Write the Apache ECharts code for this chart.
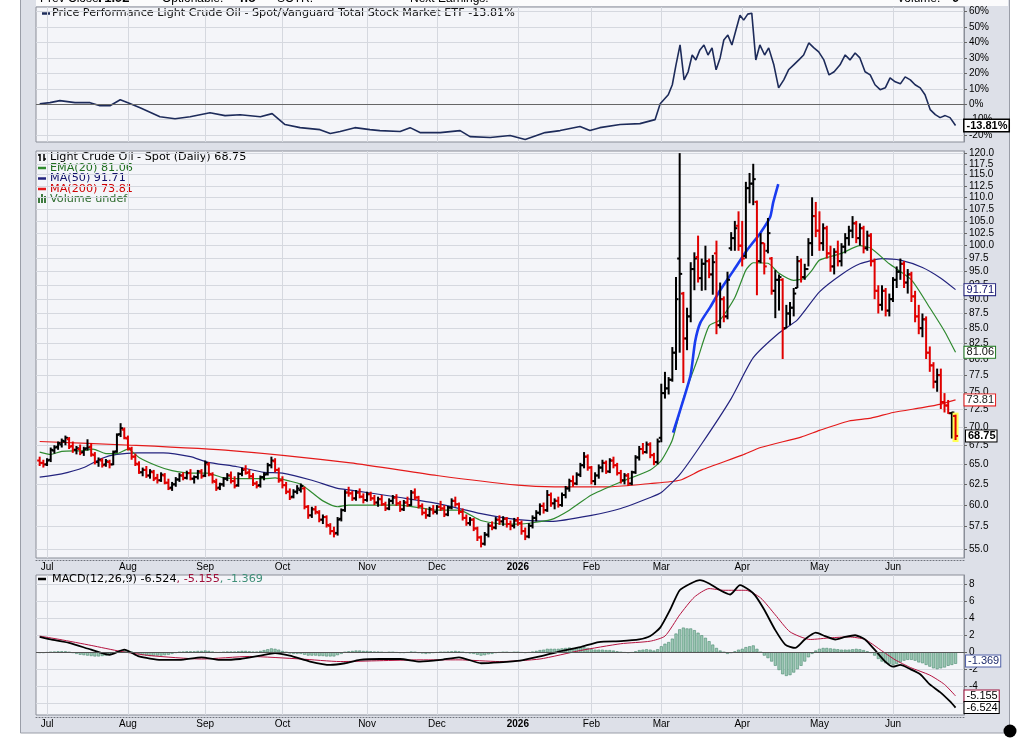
<!DOCTYPE html>
<html>
<head>
<meta charset="utf-8">
<title>Light Crude Oil - Spot</title>
<script src="https://cdn.jsdelivr.net/npm/echarts@6.0.0/dist/echarts.min.js"></script>
<style>
  html, body { margin: 0; padding: 0; background: #fff; }
  #chart { width: 1026px; height: 740px; }
</style>
</head>
<body>
<div id="chart"></div>
<script>
// month ticks (trading-day index of first session of each month)
var monthIdx = [2, 24, 45, 66, 89, 108, 130, 150, 169, 191, 212, 232];
var monthNames = ['Jul', 'Aug', 'Sep', 'Oct', 'Nov', 'Dec', '2026', 'Feb', 'Mar', 'Apr', 'May', 'Jun'];

var perfTicks = [-20, -10, 0, 10, 20, 30, 40, 50, 60];
var priceTicks = [55.0, 57.5, 60.0, 62.5, 65.0, 67.5, 70.0, 72.5, 75.0, 77.5, 80.0, 82.5, 85.0, 87.5,
    90.0, 92.5, 95.0, 97.5, 100.0, 102.5, 105.0, 107.5, 110.0, 112.5, 115.0, 117.5, 120.0];
var macdTicks = [-6, -4, -2, 0, 2, 4, 6, 8];

// last values shown in legends / boxes
var lastClose = '68.75', lastEma20 = '81.06', lastMa50 = '91.71', lastMa200 = '73.81';
var lastPerf = '-13.81%', lastMacd = '-6.524', lastSignal = '-5.155', lastHist = '-1.369';

// daily bars [open, high, low, close]
var barsJun25 = [[65.5, 66.0, 64.8, 65.2], [65.2, 65.6, 64.6, 65.0]];
var barsJul = [
    [65.0, 65.8, 64.8, 65.5], [65.6, 67.2, 65.3, 66.9], [66.8, 67.5, 66.4, 67.2], [67.3, 68.0, 66.9, 67.8],
    [67.6, 68.4, 67.2, 68.1], [68.0, 68.8, 67.5, 68.5], [68.3, 68.6, 67.0, 67.3], [67.4, 68.0, 66.5, 66.9],
    [66.9, 67.4, 66.3, 67.1], [67.0, 67.6, 66.2, 66.5], [66.6, 67.3, 66.1, 67.0], [67.1, 68.3, 66.8, 67.2],
    [67.3, 67.8, 66.0, 66.3], [66.2, 66.6, 65.0, 65.3], [65.3, 65.9, 64.7, 65.6], [65.5, 65.8, 64.6, 64.9],
    [65.0, 65.7, 64.7, 65.4], [65.3, 65.6, 64.5, 65.0], [65.0, 66.8, 64.9, 66.6], [66.7, 69.1, 66.5, 68.9],
    [69.0, 70.5, 68.6, 69.8], [69.6, 69.9, 68.3, 68.5]
];
var barsAug = [
    [68.4, 68.8, 66.8, 67.1], [67.0, 67.3, 65.6, 66.0], [66.0, 66.4, 64.8, 65.1], [65.0, 65.4, 63.8, 64.0],
    [64.0, 64.6, 63.5, 64.3], [64.3, 64.8, 63.3, 63.6], [63.6, 64.4, 63.2, 64.1], [64.0, 64.3, 62.9, 63.2],
    [63.3, 63.8, 62.6, 63.0], [63.0, 64.0, 62.8, 63.7], [63.6, 63.9, 62.5, 62.7], [62.7, 63.2, 61.8, 62.0],
    [62.1, 62.8, 61.7, 62.5], [62.5, 63.4, 62.2, 63.1], [63.1, 63.9, 62.8, 63.6], [63.6, 64.0, 63.0, 63.3],
    [63.3, 64.2, 63.1, 63.9], [63.9, 64.4, 63.0, 63.2], [63.2, 63.6, 62.6, 63.4], [63.4, 64.3, 63.1, 64.1],
    [64.1, 64.4, 63.2, 63.5]
];
var barsSep = [
    [63.6, 65.5, 63.4, 65.2], [65.0, 65.3, 63.5, 63.8], [63.7, 64.0, 62.6, 62.9], [62.8, 63.2, 61.7, 62.0],
    [62.1, 62.7, 61.8, 62.5], [62.5, 63.4, 62.2, 63.2], [63.2, 63.9, 62.9, 63.6], [63.6, 64.1, 62.6, 62.9],
    [62.9, 63.5, 62.0, 62.3], [62.4, 64.0, 62.2, 63.8], [63.8, 64.6, 63.5, 64.3], [64.4, 64.9, 63.7, 63.9],
    [64.0, 64.4, 63.2, 63.5], [63.5, 63.9, 62.3, 62.6], [62.6, 62.9, 62.0, 62.3], [62.4, 63.6, 62.1, 63.4],
    [63.4, 64.0, 63.0, 63.7], [63.8, 65.2, 63.6, 64.9], [64.9, 66.0, 64.5, 65.5], [65.4, 65.8, 64.0, 64.3],
    [64.3, 64.6, 62.7, 63.0]
];
var barsOct = [
    [63.0, 63.5, 62.0, 62.4], [62.4, 62.8, 61.3, 61.6], [61.6, 62.0, 60.6, 60.9], [61.0, 61.9, 60.8, 61.6],
    [61.6, 62.4, 61.3, 62.0], [61.8, 62.6, 61.5, 62.3], [62.0, 62.2, 59.5, 59.8], [59.8, 60.0, 58.4, 58.8],
    [58.8, 59.8, 58.5, 59.5], [59.5, 59.9, 58.9, 59.2], [59.1, 59.4, 58.0, 58.3], [58.3, 58.9, 57.8, 58.6],
    [58.6, 58.8, 57.4, 57.7], [57.6, 57.9, 56.6, 57.0], [57.0, 57.5, 56.3, 56.7], [56.8, 58.6, 56.5, 58.3],
    [58.4, 59.6, 58.1, 59.4], [59.4, 61.8, 59.2, 61.5], [61.5, 62.2, 61.0, 61.4], [61.4, 61.7, 60.5, 60.8],
    [60.8, 61.8, 60.5, 61.5], [61.5, 62.0, 60.8, 61.0], [61.0, 61.4, 60.2, 60.6]
];
var barsNov = [
    [60.6, 61.6, 60.4, 61.3], [61.3, 61.6, 60.5, 60.8], [60.8, 61.2, 60.0, 60.3], [60.3, 61.0, 59.8, 60.7],
    [60.7, 61.2, 59.9, 60.1], [60.1, 60.4, 59.3, 59.6], [59.6, 60.8, 59.4, 60.5], [60.5, 61.2, 60.1, 60.9],
    [60.9, 61.3, 59.9, 60.2], [60.2, 60.5, 59.2, 59.5], [59.5, 60.6, 59.3, 60.3], [60.3, 61.0, 59.8, 60.0],
    [60.0, 61.8, 59.9, 61.5], [61.5, 62.0, 60.6, 60.9], [60.9, 61.1, 59.6, 59.9], [59.9, 60.2, 58.8, 59.1],
    [59.1, 59.6, 58.4, 58.8], [58.8, 59.8, 58.6, 59.5], [59.5, 60.0, 58.9, 59.2]
];
var barsDec = [
    [59.2, 60.0, 58.9, 59.8], [59.8, 60.5, 59.3, 59.6], [59.6, 60.0, 58.6, 58.9], [58.9, 59.9, 58.7, 59.7],
    [59.7, 60.8, 59.5, 60.5], [60.5, 61.0, 59.8, 60.1], [60.1, 60.3, 58.9, 59.2], [59.2, 59.6, 58.2, 58.5],
    [58.5, 58.9, 57.6, 57.9], [57.9, 58.6, 57.6, 58.3], [58.3, 58.5, 57.0, 57.3], [57.3, 57.5, 55.9, 56.3],
    [56.3, 56.5, 55.2, 55.6], [55.6, 56.9, 55.4, 56.6], [56.6, 57.9, 56.3, 57.6], [57.6, 58.1, 57.1, 57.4],
    [57.4, 58.6, 57.2, 58.3], [58.3, 58.8, 57.7, 58.1], [58.1, 58.7, 57.6, 58.4], [58.4, 58.6, 57.4, 57.8],
    [57.8, 58.2, 57.1, 57.6], [57.6, 58.5, 57.3, 58.2]
];
var barsJan = [
    [58.2, 58.6, 57.6, 57.9], [57.9, 58.2, 56.6, 57.0], [57.0, 57.4, 56.0, 56.4], [56.4, 57.9, 56.2, 57.6],
    [57.6, 58.8, 57.3, 58.5], [58.5, 59.4, 58.1, 59.1], [59.1, 60.2, 58.8, 59.9], [59.9, 60.3, 59.0, 59.4],
    [59.4, 61.8, 59.2, 61.2], [61.2, 61.5, 59.8, 60.2], [60.2, 60.8, 59.5, 60.5], [60.5, 61.0, 59.7, 60.0],
    [60.0, 61.5, 59.8, 61.2], [61.2, 62.3, 60.8, 62.0], [62.0, 63.2, 61.6, 62.9], [62.9, 63.6, 62.2, 62.6],
    [62.6, 64.0, 62.4, 63.7], [63.7, 65.2, 63.4, 64.9], [64.9, 66.6, 64.5, 66.0], [66.0, 66.3, 64.2, 64.6]
];
var barsFeb = [
    [64.6, 64.8, 62.5, 62.9], [62.9, 64.0, 62.4, 63.6], [63.6, 65.0, 63.2, 64.6], [64.6, 65.6, 64.0, 65.2],
    [65.2, 65.5, 63.8, 64.1], [64.1, 65.8, 63.9, 65.5], [65.5, 66.0, 64.5, 64.9], [64.9, 65.2, 63.6, 63.9],
    [63.9, 64.3, 62.6, 63.0], [63.0, 63.9, 62.5, 63.6], [63.6, 63.9, 62.3, 62.6], [62.6, 64.2, 62.4, 64.0],
    [64.0, 66.2, 63.8, 65.9], [65.9, 67.4, 65.5, 67.0], [67.0, 67.8, 66.3, 66.6], [66.6, 68.0, 66.4, 67.6],
    [67.6, 67.9, 65.8, 66.2], [66.2, 66.5, 64.9, 65.3], [65.3, 68.4, 65.0, 68.0]
];
var barsMar = [
    [68.5, 76.2, 67.9, 74.8], [74.8, 78.0, 74.0, 75.5], [75.5, 77.2, 74.6, 76.8], [76.8, 81.9, 76.5, 81.0],
    [81.0, 94.0, 78.3, 90.0], [97.5, 120.0, 81.0, 94.6], [91.0, 91.3, 76.3, 83.3], [83.3, 88.5, 81.4, 87.0],
    [87.0, 96.8, 86.0, 95.5], [95.5, 98.7, 91.6, 97.5], [97.8, 102.0, 93.0, 93.8], [93.8, 97.5, 91.5, 96.5],
    [96.5, 100.0, 91.6, 97.0], [97.0, 97.5, 93.8, 94.5], [94.5, 98.2, 90.8, 96.8], [98.5, 101.0, 84.0, 85.5],
    [85.5, 93.0, 85.0, 90.0], [90.0, 90.5, 86.0, 87.0], [87.0, 95.0, 86.5, 93.5], [99.5, 102.7, 99.0, 101.5],
    [101.5, 105.0, 99.0, 103.5], [104.0, 107.0, 99.0, 100.0]
];
var barsApr = [
    [100.0, 105.0, 96.0, 97.5], [98.0, 113.4, 97.5, 112.0], [112.0, 115.4, 108.7, 113.0], [113.0, 117.5, 108.3, 114.0],
    [109.0, 109.3, 90.7, 97.0], [97.0, 102.5, 96.6, 100.5], [100.5, 100.5, 94.5, 96.0], [99.0, 105.6, 98.5, 102.5],
    [97.5, 97.8, 90.8, 91.5], [91.5, 95.3, 86.7, 93.5], [93.5, 94.5, 88.0, 94.0], [93.5, 93.8, 80.0, 85.0],
    [85.0, 89.0, 85.0, 87.5], [87.5, 89.5, 85.5, 88.5], [88.5, 92.0, 87.0, 91.0], [92.0, 98.0, 92.0, 97.0],
    [97.0, 97.5, 93.0, 94.0], [94.0, 96.5, 93.5, 95.5], [95.5, 101.5, 96.0, 100.5], [100.5, 110.0, 98.0, 106.0],
    [106.0, 109.0, 101.7, 103.0]
];
var barsMay = [
    [103.0, 107.0, 99.0, 100.5], [100.5, 104.5, 99.0, 103.5], [103.5, 104.0, 97.5, 98.5], [98.5, 100.0, 95.0, 96.0],
    [96.0, 99.5, 94.5, 98.8], [98.8, 101.0, 96.0, 97.0], [97.0, 100.5, 96.0, 99.8], [99.8, 102.5, 98.5, 101.5],
    [101.5, 104.0, 100.0, 103.0], [103.0, 106.0, 101.5, 104.5], [104.5, 105.0, 100.5, 101.5], [101.5, 104.5, 100.0, 103.5],
    [103.5, 104.0, 98.5, 99.5], [99.5, 103.0, 99.0, 102.0], [102.0, 102.5, 96.0, 97.0], [97.0, 97.5, 90.0, 91.5],
    [91.5, 92.5, 87.5, 89.0], [89.0, 92.5, 88.0, 91.5], [91.5, 92.0, 87.0, 88.0], [88.0, 91.0, 87.0, 90.0]
];
var barsJun = [
    [90.0, 94.0, 89.5, 93.5], [93.5, 96.0, 92.0, 95.0], [95.0, 97.5, 93.5, 96.5], [96.5, 97.0, 92.0, 93.0],
    [93.0, 95.5, 91.0, 94.5], [94.5, 95.0, 89.5, 90.5], [90.5, 91.5, 86.0, 87.0], [87.0, 89.0, 84.0, 85.0],
    [85.0, 87.5, 83.5, 86.5], [86.5, 87.0, 80.0, 81.0], [81.0, 82.0, 78.0, 79.0], [79.0, 79.5, 75.5, 76.5],
    [76.5, 78.5, 75.0, 77.5], [77.5, 78.5, 72.5, 73.5], [73.5, 74.8, 72.0, 73.0], [73.0, 73.8, 71.8, 71.9],
    [71.9, 72.1, 68.4, 72.0], [71.5, 71.7, 68.2, 68.75]
];

// overlays, read as [day index, price]
var ema20Pts = [[0, 66.6], [3, 66.3], [6, 66.7], [12, 66.8], [14.5, 67.0], [18, 66.4], [21, 66.4], [24, 67.0],
    [27, 65.9], [32, 64.8], [36, 64.2], [41, 63.9], [45.5, 63.9], [50, 63.3], [55, 63.2], [61, 63.2], [64, 63.3],
    [68, 62.9], [71, 62.5], [74, 61.5], [77, 60.5], [81, 59.8], [84, 60.0], [89, 60.0], [98, 60.0], [108, 59.4],
    [114, 59.4], [120, 58.2], [126, 57.8], [130, 57.8], [139, 58.3], [144, 59.4], [150, 61.2], [158, 62.8],
    [166, 64.3], [169, 65.5], [172, 68.2], [175, 74.0], [179, 80.2], [182, 85.4], [185, 86.4], [189, 90.3],
    [192, 95.3], [194, 96.7], [198, 96.6], [201, 94.7], [205, 93.4], [208, 93.8], [210, 95.3], [212, 97.2],
    [218, 98.5], [223, 100.0], [226, 99.5], [231, 96.5], [237, 93.5], [242, 88.5], [246, 84.5], [249, 81.06]];
var ma50Pts = [[0, 63.4], [6, 63.8], [12, 64.6], [17, 65.8], [21, 66.3], [26.5, 66.5], [33.6, 66.5], [41, 66.0],
    [45.5, 65.3], [53.7, 64.7], [61, 64.0], [66, 63.9], [74, 63.0], [81, 62.0], [84.5, 61.8], [98, 60.9],
    [108, 60.2], [120, 59.0], [130, 58.3], [139, 58.1], [150, 58.8], [158, 59.6], [166, 60.9], [169, 61.5],
    [174, 63.7], [180, 67.7], [188, 74.0], [194, 80.2], [201, 84.2], [206, 86.4], [212, 91.3], [218, 94.5],
    [223, 96.5], [229, 97.5], [234, 97.2], [240, 95.8], [245, 93.8], [249, 91.71]];
var ma200Pts = [[0, 68.0], [25, 67.5], [52, 66.8], [84.5, 65.2], [108, 63.6], [130, 62.4], [140, 62.2],
    [155, 62.2], [166, 62.6], [174, 63.0], [180, 64.3], [191, 66.2], [196, 67.2], [207, 68.6], [212, 69.5],
    [220, 70.8], [226, 71.2], [232, 72.0], [240, 72.7], [245, 73.2], [249, 73.81]];
var trendPts = [[172.2, 69.2], [175, 73.8], [177, 77.6], [178.2, 82.8], [179.6, 85.9], [182.3, 88.6], [185, 91.6],
    [188.7, 95.3], [192.3, 99.1], [195.9, 102.5], [198.6, 105.8], [199.4, 108.8], [200.8, 112.9]];

// price performance vs VTI, [day index, %]
var perfPts = [[0, 0.3], [2.8, 1.0], [5.5, 2.3], [9.6, 1.0], [13.7, 1.0], [16.4, -1.0], [19.1, -1.0], [21.9, 2.9],
    [24, 1.0], [27.3, -2.3], [32.7, -8.1], [36.8, -9.4], [40.9, -8.1], [43.6, -6.8], [46.3, -5.5], [50.4, -7.4],
    [54.5, -6.8], [60, -8.1], [63.2, -6.1], [66.7, -13.2], [70.8, -15.2], [76.2, -16.5], [79, -19.0], [81.7, -17.7],
    [85.7, -15.2], [89.8, -16.5], [92.5, -17.1], [98, -17.7], [100.7, -15.2], [103.4, -18.4], [108.9, -18.4],
    [114.3, -17.1], [117, -21.0], [122.5, -21.6], [127.9, -20.3], [132, -22.9], [137.4, -18.4], [141.5, -17.1],
    [146.9, -14.5], [149.6, -17.1], [152.3, -15.2], [157.8, -13.2], [163.2, -12.6], [167.3, -10.0], [168.7, 0.3],
    [170.9, 6.1], [172, 12.6], [173, 25.5], [174.1, 38.4], [175.2, 15.8], [176.3, 21.0], [177.4, 31.9],
    [178.4, 28.7], [179.5, 35.2], [180.6, 38.4], [181.7, 31.9], [182.8, 36.5], [183.9, 22.3], [185, 30.0],
    [186, 41.6], [187.1, 44.8], [188.2, 38.4], [189.3, 48.1], [190.4, 57.7], [191.4, 54.5], [192.5, 58.4],
    [193.6, 59.0], [194.7, 28.7], [195.8, 38.4], [197.1, 31.9], [198.2, 36.5], [199.6, 25.5], [200.9, 10.6],
    [202.3, 15.8], [203.6, 22.3], [205, 25.5], [206.4, 28.7], [207.7, 31.9], [209.1, 39.7], [210.5, 36.5],
    [211.8, 33.9], [213.2, 28.7], [214.6, 19.0], [216, 21.0], [217.6, 25.5], [219, 31.9], [220.3, 28.7],
    [221.7, 33.2], [223, 30.0], [224.4, 21.0], [225.8, 19.0], [227.1, 12.6], [228.5, 9.4], [229.9, 10.6],
    [231.2, 17.1], [232.6, 14.5], [234, 13.2], [235.3, 17.7], [236.7, 15.8], [238, 12.6], [239.4, 10.6],
    [240.7, 6.1], [242.1, -3.5], [243.5, -6.8], [244.8, -8.7], [246.2, -7.4], [247.5, -8.7], [249, -13.81]];

// MACD(12,26,9)
var macdPts = [[0, 1.8], [3, 1.5], [8, 1.1], [14, 0.3], [19, -0.3], [23, 0.3], [27, -0.5], [33, -0.9], [38, -0.9],
    [44, -0.6], [49, -0.9], [54.5, -0.8], [60, -0.4], [64, -0.1], [68, -0.4], [73.5, -1.1], [79, -1.5], [83, -1.3],
    [87, -0.9], [92.5, -0.8], [98, -0.8], [103.4, -1.1], [109, -0.9], [114, -0.6], [120, -1.3], [125, -1.2],
    [130.6, -1.0], [136, -0.5], [141.5, 0.1], [147, 0.6], [152, 1.2], [158, 1.3], [163, 1.5], [166, 1.9],
    [168.7, 2.9], [171.4, 5.0], [174, 7.3], [177, 8.1], [179.5, 8.5], [182, 8.1], [185, 7.3], [187.7, 6.8],
    [190.4, 7.9], [193, 7.3], [194.5, 6.7], [197, 5.0], [200, 2.6], [202.7, 0.9], [205.4, 0.5], [208, 1.5],
    [211, 2.3], [213.5, 1.9], [216.3, 1.5], [219, 1.8], [221.7, 2.0], [224.4, 1.5], [227, 0.3], [229.9, -1.1],
    [232, -1.7], [234, -1.5], [236.7, -2.0], [239.4, -2.6], [242, -3.8], [244.8, -4.7], [247.5, -5.8], [249, -6.524]];
var signalPts = [[0, 1.9], [5.5, 1.5], [14, 0.8], [22, 0.1], [30, -0.4], [44, -0.8], [57, -0.5], [71, -0.8],
    [81.7, -1.1], [92.5, -1.0], [103.4, -0.9], [114, -0.9], [125, -1.1], [136, -0.8], [147, 0.2], [158, 1.0],
    [166, 1.3], [170, 1.9], [174, 4.4], [178, 6.5], [182, 7.5], [186, 7.3], [192, 7.3], [196, 6.4], [200, 4.4],
    [204, 2.4], [209.5, 1.5], [215, 1.7], [220, 1.8], [224.4, 1.5], [228.5, 0.3], [232.6, -0.9], [236.7, -1.8],
    [242, -2.7], [246, -3.8], [249, -5.155]];
var histJun25 = [-0.1, -0.1];
var histJul = [-0.05, 0.0, 0.05, 0.1, 0.1, 0.1, 0.0, -0.1, -0.2, -0.3, -0.35, -0.4, -0.45, -0.5, -0.5, -0.45,
    -0.4, -0.3, -0.1, 0.1, 0.25, 0.3];
var histAug = [0.2, 0.05, -0.1, -0.25, -0.35, -0.4, -0.45, -0.45, -0.4, -0.4, -0.35, -0.3, -0.2, -0.1, 0.0, 0.05,
    0.1, 0.1, 0.1, 0.15, 0.15];
var histSep = [0.2, 0.15, 0.05, -0.05, -0.05, 0.0, 0.05, 0.05, 0.05, 0.1, 0.15, 0.15, 0.1, 0.05, 0.05, 0.15,
    0.25, 0.35, 0.45, 0.4, 0.3];
var histOct = [0.15, 0.0, -0.15, -0.2, -0.2, -0.2, -0.3, -0.4, -0.4, -0.4, -0.45, -0.45, -0.5, -0.5, -0.5, -0.35,
    -0.2, 0.0, 0.1, 0.15, 0.2, 0.2, 0.15];
var histNov = [0.15, 0.1, 0.05, 0.05, 0.0, -0.05, 0.0, 0.0, -0.05, -0.1, -0.1, -0.05, 0.05, 0.0, -0.1, -0.15,
    -0.2, -0.15, -0.1];
var histDec = [-0.05, 0.0, 0.0, 0.05, 0.1, 0.15, 0.1, 0.0, -0.1, -0.15, -0.2, -0.3, -0.4, -0.35, -0.25, -0.2,
    -0.1, -0.05, 0.0, 0.0, -0.05, 0.0];
var histJan = [0.0, -0.05, -0.1, -0.05, 0.05, 0.15, 0.25, 0.3, 0.4, 0.4, 0.4, 0.4, 0.45, 0.5, 0.55, 0.5, 0.5,
    0.55, 0.6, 0.5];
var histFeb = [0.35, 0.3, 0.3, 0.3, 0.25, 0.25, 0.2, 0.1, 0.0, -0.05, -0.1, -0.05, 0.1, 0.25, 0.3, 0.35, 0.3,
    0.2, 0.35];
var histMar = [0.7, 1.0, 1.2, 1.6, 2.2, 2.7, 2.9, 2.8, 2.8, 2.6, 2.3, 2.0, 1.7, 1.3, 0.9, 0.5, 0.2, 0.0, -0.2,
    -0.1, 0.1, 0.3];
var histApr = [0.4, 0.6, 0.7, 0.8, 0.4, 0.0, -0.4, -0.7, -1.1, -1.6, -2.1, -2.6, -2.8, -2.7, -2.4, -2.0, -1.6,
    -1.1, -0.6, -0.2, 0.2];
var histMay = [0.4, 0.5, 0.5, 0.45, 0.4, 0.35, 0.3, 0.3, 0.3, 0.35, 0.4, 0.35, 0.25, 0.1, -0.1, -0.4, -0.8,
    -1.1, -1.3, -1.4];
var histJun = [-1.5, -1.4, -1.2, -1.0, -0.9, -0.9, -1.0, -1.2, -1.3, -1.5, -1.7, -1.9, -2.0, -1.9, -1.8, -1.6,
    -1.5, -1.369];

var bars = [].concat(barsJun25, barsJul, barsAug, barsSep, barsOct, barsNov, barsDec, barsJan, barsFeb,
    barsMar, barsApr, barsMay, barsJun);
var hist = [].concat(histJun25, histJul, histAug, histSep, histOct, histNov, histDec, histJan, histFeb,
    histMar, histApr, histMay, histJun);

var LABEL_FONT = 'Liberation Sans';
var LEGEND_FONT = '11.2px "DejaVu Sans"';
var GRID_LINE = '#d5d8df';
var PLOT_BG = '#f4f5f9';
var BORDER = '#8a8e98';

// price panel is logarithmic: work in ln(price)
function lnPts(pts) {
    return pts.map(function (p) { return [p[0], Math.log(p[1])]; });
}
var lnTicks = priceTicks.map(function (v) { return Math.log(v); });

var barData = bars.map(function (b, i) {
    var prev = i > 0 ? bars[i - 1][3] : b[0];
    return [i, Math.log(b[0]), Math.log(b[1]), Math.log(b[2]), Math.log(b[3]), b[3] >= prev ? 1 : 0];
});

function renderBar(params, api) {
    var x = api.value(0);
    var o = api.coord([x, api.value(1)]);
    var h = api.coord([x, api.value(2)]);
    var l = api.coord([x, api.value(3)]);
    var c = api.coord([x, api.value(4)]);
    var color = api.value(5) ? '#000000' : '#e00000';
    var st = { stroke: color, lineWidth: 2 };
    var children = [];
    var last = params.dataIndex === bars.length - 1;
    if (last) {
        children.push({ type: 'rect', shape: { x: h[0] - 3, y: h[1] - 2, width: 6, height: l[1] - h[1] + 4 },
            style: { fill: '#ffff55' } });
    }
    children.push({ type: 'line', shape: { x1: h[0], y1: h[1], x2: l[0], y2: l[1] }, style: st });
    children.push({ type: 'line', shape: { x1: o[0] - 2.5, y1: o[1], x2: o[0], y2: o[1] }, style: st });
    children.push({ type: 'line', shape: { x1: c[0], y1: c[1], x2: c[0] + 2.5, y2: c[1] }, style: st });
    if (last) {
        var cs = params.coordSys;
        children.push({ type: 'text', x: cs.x + cs.width + 2, y: c[1],
            style: { text: lastClose, font: 'bold 11px "Liberation Sans"', fill: '#000', verticalAlign: 'middle',
                backgroundColor: '#fff', borderColor: '#000', borderWidth: 1, padding: [0, 1, 0, 2] } });
    }
    return { type: 'group', children: children };
}

function xAxisFor(grid, showLabels) {
    return {
        type: 'value', gridIndex: grid, min: -1, max: 251.3, offset: showLabels ? 2 : 0,
        // dotted day-tick strip under the panel
        axisLine: { show: showLabels, onZero: false, lineStyle: { color: '#6f737c', width: 1, type: [1, 2] } },
        axisTick: { show: false, customValues: monthIdx },
        axisLabel: {
            show: showLabels, customValues: monthIdx, margin: 2, color: '#000',
            fontFamily: LABEL_FONT, fontSize: 10,
            formatter: function (v) {
                var k = monthIdx.indexOf(Math.round(v));
                return k === 6 ? '{b|' + monthNames[k] + '}' : monthNames[k];
            },
            rich: { b: { fontWeight: 'bold', fontFamily: LABEL_FONT, fontSize: 10, color: '#000' } }
        },
        splitLine: { show: true, lineStyle: { color: GRID_LINE, width: 1 } }
    };
}

function yAxisFor(grid, min, max, ticks, fmt) {
    return {
        type: 'value', gridIndex: grid, position: 'right', min: min, max: max,
        axisLine: { show: true, onZero: false, lineStyle: { color: BORDER, width: 1 } },
        axisTick: { show: true, inside: false, customValues: ticks, length: 3, lineStyle: { color: '#666' } },
        axisLabel: { customValues: ticks, formatter: fmt, margin: 5, color: '#000', fontFamily: LABEL_FONT, fontSize: 10 },
        splitLine: { show: true, lineStyle: { color: GRID_LINE, width: 1 } }
    };
}

function endBox(text, border, color, bold) {
    return {
        show: true, formatter: text, distance: 9, color: color, fontFamily: LABEL_FONT, fontSize: 11,
        fontWeight: bold ? 'bold' : 'normal', lineHeight: 11,
        backgroundColor: '#fff', borderColor: border, borderWidth: bold ? 1.5 : 1, padding: [0, 1, 0, 2]
    };
}

function lineSeries(name, data, xi, color, width, label) {
    var s = {
        name: name, type: 'line', xAxisIndex: xi, yAxisIndex: xi, data: data,
        showSymbol: false, symbol: 'none', smooth: 0.2,
        lineStyle: { color: color, width: width }, z: 3
    };
    if (label) { s.endLabel = label; }
    return s;
}

var histData = hist.map(function (v, i) {
    if (i === hist.length - 1) {
        return { value: [i, v], label: { show: true, position: 'right', distance: 9, offset: [0, 3], formatter: lastHist,
            color: '#1f2d6e', fontFamily: LABEL_FONT, fontSize: 11, backgroundColor: '#fff', borderColor: '#5060a8',
            borderWidth: 1, padding: [0, 1, 0, 2], lineHeight: 11 } };
    }
    return [i, v];
});

function legendLine(x, y, color, w) {
    return { type: 'line', shape: { x1: x, y1: y, x2: x + 8, y2: y }, style: { stroke: color, lineWidth: w || 2.5 } };
}
function legendText(x, y, text, fill, font) {
    return { type: 'text', x: x, y: y, style: { text: text, font: font || LEGEND_FONT, fill: fill, verticalAlign: 'middle' } };
}
function headText(x, text, bold) {
    return { type: 'text', x: x, y: 5, style: { text: text, font: (bold ? 'bold 13px ' : '12px ') + '"Liberation Sans"',
        fill: '#000', verticalAlign: 'bottom' } };
}

var chart = echarts.init(document.getElementById('chart'));

var option = {
    backgroundColor: '#dde0e8',
    animation: false,
    grid: [
        { left: 36, top: 7, width: 928, height: 135, show: true, backgroundColor: PLOT_BG, borderColor: BORDER, borderWidth: 1 },
        { left: 36, top: 151, width: 928, height: 407, show: true, backgroundColor: PLOT_BG, borderColor: BORDER, borderWidth: 1 },
        { left: 36, top: 575, width: 928, height: 140, show: true, backgroundColor: PLOT_BG, borderColor: BORDER, borderWidth: 1 }
    ],
    xAxis: [xAxisFor(0, false), xAxisFor(1, true), xAxisFor(2, true)],
    yAxis: [
        yAxisFor(0, -24.5, 63, perfTicks, function (v) { return v + '%'; }),
        yAxisFor(1, Math.log(54.06), Math.log(120.5), lnTicks, function (v) { return Math.exp(v).toFixed(1); }),
        yAxisFor(2, -7.4, 9.1, macdTicks, function (v) { return String(v); })
    ],
    series: [
        {
            name: 'Performance', type: 'line', xAxisIndex: 0, yAxisIndex: 0, data: perfPts,
            showSymbol: false, symbol: 'none', lineStyle: { color: '#1d2b5a', width: 1.6 },
            endLabel: endBox(lastPerf, '#000', '#000', true),
            markLine: { silent: true, symbol: 'none', label: { show: false },
                lineStyle: { color: '#666', width: 1, type: 'solid' }, data: [{ yAxis: 0 }] }
        },
        lineSeries('MA(200)', lnPts(ma200Pts), 1, '#e41a1a', 1.2, endBox(lastMa200, '#e41a1a', '#222')),
        lineSeries('MA(50)', lnPts(ma50Pts), 1, '#23237e', 1.2, endBox(lastMa50, '#23237e', '#10106a')),
        lineSeries('EMA(20)', lnPts(ema20Pts), 1, '#2f8a2f', 1.2, endBox(lastEma20, '#1f7a1f', '#111')),
        {
            name: 'Light Crude Oil', type: 'custom', xAxisIndex: 1, yAxisIndex: 1, data: barData,
            renderItem: renderBar, encode: { x: 0, y: [1, 2, 3, 4] }, z: 4
        },
        lineSeries('trend', lnPts(trendPts), 1, '#1a3cf0', 2.6, null),
        {
            name: 'Histogram', type: 'bar', xAxisIndex: 2, yAxisIndex: 2, data: histData, barWidth: 3,
            itemStyle: { color: '#9cc8b4', borderColor: '#4a8a70', borderWidth: 0.6 },
            markLine: { silent: true, symbol: 'none', label: { show: false },
                lineStyle: { color: '#555', width: 1, type: 'solid' }, data: [{ yAxis: 0 }] }
        },
        lineSeries('Signal', signalPts, 2, '#b5123f', 1, endBox(lastSignal, '#a0103a', '#000')),
        lineSeries('MACD', macdPts, 2, '#000000', 1.8, endBox(lastMacd, '#000', '#000'))
    ],
    graphic: [
        // white surround of the chart frame
        { type: 'rect', shape: { x: 0, y: 0, width: 20, height: 740 }, style: { fill: '#fff' } },
        { type: 'rect', shape: { x: 1010, y: 0, width: 16, height: 740 }, style: { fill: '#fff' } },
        { type: 'rect', shape: { x: 0, y: 733, width: 1026, height: 7 }, style: { fill: '#fff' } },
        { type: 'rect', shape: { x: 36, y: 0, width: 972, height: 6 }, style: { fill: '#fbfbfc' } },
        { type: 'rect', shape: { x: 20.5, y: -1, width: 989, height: 734 }, style: { fill: null, stroke: '#9a9ea8', lineWidth: 1 } },
        { type: 'circle', shape: { cx: 1010, cy: 731, r: 6.5 }, style: { fill: '#000' } },
        // cut-off header row
        headText(40, 'Prev Close:'), headText(97, '71.92', true),
        headText(162, 'Optionable:'), headText(240, 'no', true),
        headText(277, 'SCTR:'), headText(410, 'Next Earnings:'),
        headText(897, 'Volume:'), headText(952, '0', true),
        // performance panel legend
        legendLine(42, 13.5, '#1d2b5a', 2.5),
        legendText(52, 13.5, 'Price Performance Light Crude Oil - Spot/Vanguard Total Stock Market ETF -13.81%', '#111'),
        // price panel legend
        { type: 'line', shape: { x1: 40, y1: 153, x2: 40, y2: 161 }, style: { stroke: '#000', lineWidth: 1.5 } },
        { type: 'line', shape: { x1: 38, y1: 155, x2: 40, y2: 155 }, style: { stroke: '#000', lineWidth: 1.5 } },
        { type: 'line', shape: { x1: 44, y1: 154, x2: 44, y2: 161 }, style: { stroke: '#000', lineWidth: 1.5 } },
        { type: 'line', shape: { x1: 44, y1: 159, x2: 46, y2: 159 }, style: { stroke: '#000', lineWidth: 1.5 } },
        legendText(50, 157, 'Light Crude Oil - Spot (Daily) ' + lastClose, '#000'),
        legendLine(38, 168, '#2f8a2f'), legendText(50, 168, 'EMA(20) ' + lastEma20, '#1f6e1f'),
        legendLine(38, 178.5, '#23237e'), legendText(50, 178.5, 'MA(50) ' + lastMa50, '#10106a'),
        legendLine(38, 189, '#e41a1a'), legendText(50, 189, 'MA(200) ' + lastMa200, '#d00000'),
        { type: 'rect', shape: { x: 38, y: 197, width: 2, height: 6 }, style: { fill: '#3d7a3d' } },
        { type: 'rect', shape: { x: 41, y: 194, width: 2, height: 9 }, style: { fill: '#3d7a3d' } },
        { type: 'rect', shape: { x: 44, y: 196, width: 2, height: 7 }, style: { fill: '#3d7a3d' } },
        legendText(50, 199, 'Volume undef', '#2e6b2e'),
        // MACD legend
        legendLine(38, 579, '#000'),
        { type: 'text', x: 52, y: 579, style: {
            text: '{a|MACD(12,26,9) ' + lastMacd + '}{b|, ' + lastSignal + '}{c|, ' + lastHist + '}',
            font: LEGEND_FONT, verticalAlign: 'middle',
            rich: {
                a: { fill: '#000', color: '#000', font: LEGEND_FONT },
                b: { fill: '#a0103a', color: '#a0103a', font: LEGEND_FONT },
                c: { fill: '#3f8f78', color: '#3f8f78', font: LEGEND_FONT }
            } } }
    ]
};

chart.setOption(option);
</script>
</body>
</html>
